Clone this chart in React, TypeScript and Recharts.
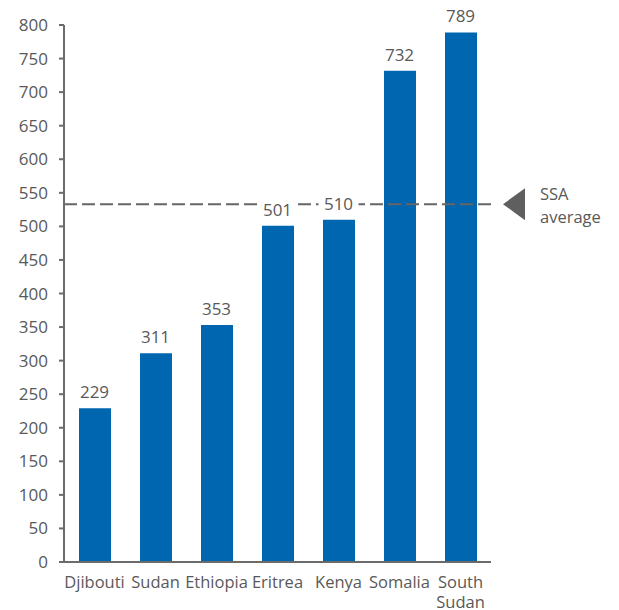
import React from 'react';
import { ComposedChart, Bar, Line, XAxis, YAxis, ReferenceLine, LabelList } from 'recharts';

const countries = ['Djibouti', 'Sudan', 'Ethiopia', 'Eritrea', 'Kenya', 'Somalia', 'South Sudan'];
const values = [229, 311, 353, 501, 510, 732, 789];
const yTicks = [0, 50, 100, 150, 200, 250, 300, 350, 400, 450, 500, 550, 600, 650, 700, 750, 800];
const ssaAverage = 533;
const ssaLabel = ['SSA', 'average'];

const data = countries.map((c, i) => ({ country: c, value: values[i] }));

const FONT = '"Open Sans", "DejaVu Sans", sans-serif';
const TEXT = '#595959';
const AXIS = '#6b6b6b';
const BLUE = '#0066B0';

const XTick = (props: any) => {
  const { x, y, payload } = props;
  const words: string[] = String(payload.value).split(' ');
  return (
    <text x={x} y={y} textAnchor="middle" fill={TEXT} fontSize={16.5} fontFamily={FONT}>
      {words.map((w, i) => (
        <tspan key={i} x={x} dy={i === 0 ? 18 : 20}>
          {w}
        </tspan>
      ))}
    </text>
  );
};

const ValueLabel = (props: any) => {
  const { x, y, value } = props;
  const base = y - 10;
  return (
    <g>
      <rect x={x - 20} y={base - 17} width={40} height={21} fill="#ffffff" />
      <text x={x} y={base} textAnchor="middle" fill={TEXT} fontSize={17} fontFamily={FONT}>
        {value}
      </text>
    </g>
  );
};

const SsaMarker = (props: any) => {
  const { viewBox } = props;
  const right = viewBox.x + viewBox.width;
  const cy = viewBox.y;
  const tip = right + 12;
  return (
    <g>
      <polygon points={`${tip},${cy} ${tip + 22},${cy - 16} ${tip + 22},${cy + 16}`} fill="#5f5f5f" />
      <text x={right + 49} y={cy - 4} fill={TEXT} fontSize={16.5} fontFamily={FONT}>
        {ssaLabel[0]}
      </text>
      <text x={right + 49} y={cy + 19} fill={TEXT} fontSize={16.5} fontFamily={FONT}>
        {ssaLabel[1]}
      </text>
    </g>
  );
};

export default function App() {
  return (
    <ComposedChart
      width={611}
      height={602}
      data={data}
      margin={{ top: 17, right: 128, bottom: 8, left: 0 }}
      barCategoryGap={29}
    >
      <XAxis
        dataKey="country"
        tick={<XTick />}
        tickLine={false}
        axisLine={{ stroke: AXIS, strokeWidth: 2 }}
        interval={0}
        height={40}
      />
      <YAxis
        domain={[0, 800]}
        ticks={yTicks}
        interval={0}
        width={56}
        tickSize={5}
        tickMargin={11}
        axisLine={{ stroke: AXIS, strokeWidth: 2 }}
        tickLine={{ stroke: AXIS, strokeWidth: 2 }}
        tick={{ fill: TEXT, fontSize: 17, fontFamily: FONT }}
      />
      <Bar dataKey="value" fill={BLUE} barSize={32} isAnimationActive={false} zIndex={300} />
      <ReferenceLine
        y={ssaAverage}
        stroke="#666666"
        strokeWidth={2}
        strokeDasharray="13 5"
        zIndex={450}
        label={<SsaMarker />}
      />
      <Line
        dataKey="value"
        stroke="none"
        dot={false}
        activeDot={false}
        isAnimationActive={false}
        zIndex={500}
      >
        <LabelList dataKey="value" content={<ValueLabel />} />
      </Line>
    </ComposedChart>
  );
}
